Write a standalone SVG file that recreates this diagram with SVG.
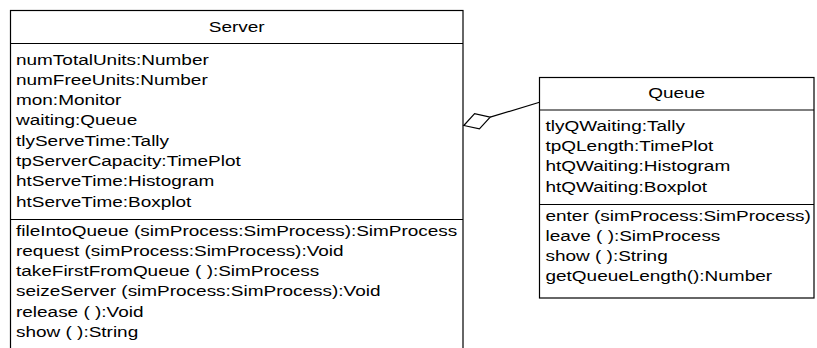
<svg xmlns="http://www.w3.org/2000/svg" width="817" height="348" viewBox="0 0 817 348">
<style>
.box{fill:#fff;stroke:#000;stroke-width:1.2}
.div{stroke:#000;stroke-width:1.2;fill:none}
.t{font-family:"Liberation Sans",Arial,sans-serif;font-size:14px;fill:#000}
.c{text-anchor:middle}
.conn{stroke:#000;stroke-width:1.2;fill:none}
.dia{fill:#fff;stroke:#000;stroke-width:1.2}
</style>
<rect width="817" height="348" fill="#fff"/>
<g id="server">
<rect class="box" x="10.5" y="10.5" width="452.5" height="360"/>
<line class="div" x1="10.5" y1="43.5" x2="463" y2="43.5"/>
<line class="div" x1="10.5" y1="219.5" x2="463" y2="219.5"/>
<text class="t c" transform="translate(236.7,31.5) scale(1.355,1)">Server</text>
<text class="t" transform="translate(16,64.5) scale(1.355,1)">numTotalUnits:Number</text>
<text class="t" transform="translate(16,84.8) scale(1.355,1)">numFreeUnits:Number</text>
<text class="t" transform="translate(16,105.1) scale(1.355,1)">mon:Monitor</text>
<text class="t" transform="translate(16,125.4) scale(1.355,1)">waiting:Queue</text>
<text class="t" transform="translate(16,145.7) scale(1.355,1)">tlyServeTime:Tally</text>
<text class="t" transform="translate(16,166) scale(1.355,1)">tpServerCapacity:TimePlot</text>
<text class="t" transform="translate(16,186.3) scale(1.355,1)">htServeTime:Histogram</text>
<text class="t" transform="translate(16,206.6) scale(1.355,1)">htServeTime:Boxplot</text>
<text class="t" transform="translate(16,235.5) scale(1.355,1)">fileIntoQueue (simProcess:SimProcess):SimProcess</text>
<text class="t" transform="translate(16,255.8) scale(1.355,1)">request (simProcess:SimProcess):Void</text>
<text class="t" transform="translate(16,276.1) scale(1.355,1)">takeFirstFromQueue ( ):SimProcess</text>
<text class="t" transform="translate(16,296.4) scale(1.355,1)">seizeServer (simProcess:SimProcess):Void</text>
<text class="t" transform="translate(16,316.7) scale(1.355,1)">release ( ):Void</text>
<text class="t" transform="translate(16,337) scale(1.355,1)">show ( ):String</text>
</g>
<g id="queue">
<rect class="box" x="539.5" y="77.5" width="274.5" height="220.5"/>
<line class="div" x1="539.5" y1="110" x2="814" y2="110"/>
<line class="div" x1="539.5" y1="204.5" x2="814" y2="204.5"/>
<text class="t c" transform="translate(676.7,98) scale(1.355,1)">Queue</text>
<text class="t" transform="translate(545.5,130.7) scale(1.355,1)">tlyQWaiting:Tally</text>
<text class="t" transform="translate(545.5,151) scale(1.355,1)">tpQLength:TimePlot</text>
<text class="t" transform="translate(545.5,171.3) scale(1.355,1)">htQWaiting:Histogram</text>
<text class="t" transform="translate(545.5,191.6) scale(1.355,1)">htQWaiting:Boxplot</text>
<text class="t" transform="translate(545.5,220.5) scale(1.355,1)">enter (simProcess:SimProcess)</text>
<text class="t" transform="translate(545.5,240.8) scale(1.355,1)">leave ( ):SimProcess</text>
<text class="t" transform="translate(545.5,261.1) scale(1.355,1)">show ( ):String</text>
<text class="t" transform="translate(545.5,281.4) scale(1.355,1)">getQueueLength():Number</text>
</g>
<g id="connectors">
<line class="conn" x1="539.5" y1="102.3" x2="490.2" y2="117.1"/>
<polygon class="dia" points="463.8,125.5 474.6,113.7 490.2,117.1 479.4,128.9"/>
</g>
</svg>
